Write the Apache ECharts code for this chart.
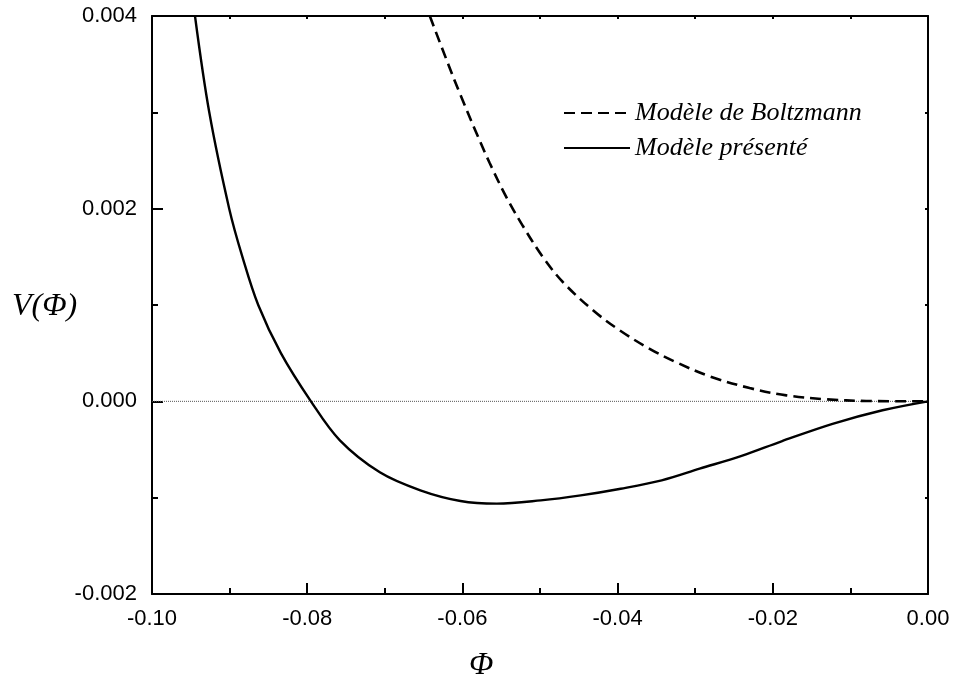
<!DOCTYPE html>
<html>
<head>
<meta charset="utf-8">
<script src="https://cdn.jsdelivr.net/npm/echarts@6/dist/echarts.min.js"></script>
<style>
  html, body { margin: 0; padding: 0; background: #fff; }
  #chart { width: 956px; height: 686px; }
</style>
</head>
<body>
<div id="chart"></div>
<script>
// Sagdeev-type potential V(Φ) for two models
const seriesNames = ['Modèle de Boltzmann', 'Modèle présenté'];

// Φ values and V(Φ) for the Boltzmann model
const phiBoltzmann = [-0.0642, -0.06205, -0.06034, -0.05818, -0.05647, -0.05432, -0.05218, -0.04961,
  -0.04703, -0.04317, -0.03973, -0.03587, -0.03243, -0.02814, -0.02299, -0.01826, -0.01311,
  -0.00796, 0];
const vBoltzmann = [0.00400, 0.003546, 0.003198, 0.002783, 0.002471, 0.002118, 0.001817, 0.001495,
  0.001236, 0.000945, 0.000737, 0.000545, 0.000405, 0.000260, 0.000138, 0.000062, 0.000021,
  0.000004, 0];

// Φ values and V(Φ) for the presented model
const phiPresent = [-0.09446, -0.09262, -0.09005, -0.08835, -0.08631, -0.08339, -0.07952,
  -0.07579, -0.07064, -0.06542, -0.06025, -0.05557, -0.04990, -0.04475, -0.03960, -0.03432,
  -0.02943, -0.02402, -0.01887, -0.01230, -0.00586, 0];
const vPresent = [0.00400, 0.00300, 0.00200, 0.00150, 0.00100, 0.00050, 0,
  -0.000405, -0.000737, -0.000924, -0.001035, -0.001062, -0.001028, -0.000976, -0.000907, -0.000820,
  -0.000699, -0.000566, -0.000415, -0.000234, -0.000093, 0];

// Zero reference line
const zeroLinePhi = [-0.1, 0];
const zeroLineV = [0, 0];

const zip = (xs, ys) => xs.map((x, i) => [x, ys[i]]);

const labelFont = { fontFamily: 'Liberation Sans, Arial, sans-serif', fontSize: 22, color: '#000' };
const black = '#000';

const chart = echarts.init(document.getElementById('chart'), null, { renderer: 'canvas' });

chart.setOption({
  backgroundColor: '#fff',
  animation: false,
  grid: { left: 152, right: 28, top: 16, bottom: 92, containLabel: false },
  xAxis: [
    {
      type: 'value', min: -0.1, max: 0, interval: 0.02, position: 'bottom',
      axisLine: { show: true, onZero: false, lineStyle: { color: black, width: 2 } },
      axisTick: { show: true, inside: true, length: 11, lineStyle: { color: black, width: 2 } },
      minorTick: { show: true, splitNumber: 2, length: 6, lineStyle: { color: black, width: 2 } },
      axisLabel: Object.assign({ margin: 14, formatter: v => v.toFixed(2) }, labelFont),
      splitLine: { show: false }
    },
    {
      type: 'value', min: -0.1, max: 0, interval: 0.01, position: 'top',
      axisLine: { show: true, onZero: false, lineStyle: { color: black, width: 2 } },
      axisTick: { show: true, inside: true, length: 3, lineStyle: { color: black, width: 2 } },
      axisLabel: { show: false },
      splitLine: { show: false }
    }
  ],
  yAxis: [
    {
      type: 'value', min: -0.002, max: 0.004, interval: 0.002, position: 'left',
      axisLine: { show: true, onZero: false, lineStyle: { color: black, width: 2 } },
      axisTick: { show: true, inside: true, length: 11, lineStyle: { color: black, width: 2 } },
      minorTick: { show: true, splitNumber: 2, length: 6, lineStyle: { color: black, width: 2 } },
      axisLabel: Object.assign({ margin: 15, formatter: v => v.toFixed(3) }, labelFont),
      splitLine: { show: false }
    },
    {
      type: 'value', min: -0.002, max: 0.004, interval: 0.001, position: 'right',
      axisLine: { show: true, onZero: false, lineStyle: { color: black, width: 2 } },
      axisTick: { show: true, inside: true, length: 3, lineStyle: { color: black, width: 2 } },
      axisLabel: { show: false },
      splitLine: { show: false }
    }
  ],
  legend: {
    orient: 'vertical',
    left: 563,
    top: 100,
    padding: 0,
    itemWidth: 66,
    itemHeight: 14,
    itemGap: 9,
    itemStyle: { opacity: 0 },
    data: seriesNames,
    textStyle: {
      fontFamily: 'Liberation Serif, Times New Roman, serif',
      fontStyle: 'italic',
      fontSize: 26,
      lineHeight: 26,
      color: '#000'
    }
  },
  graphic: [
    {
      type: 'text', left: 12, top: 291,
      style: { text: 'V(Φ)', font: 'italic 32px "Liberation Serif", serif', fill: '#000' }
    },
    {
      type: 'text', left: 469, top: 650,
      style: { text: 'Φ', font: 'italic 32px "Liberation Serif", serif', fill: '#000' }
    }
  ],
  series: [
    {
      name: 'zero',
      type: 'line',
      data: zip(zeroLinePhi, zeroLineV),
      symbol: 'none',
      silent: true,
      lineStyle: { color: '#555', width: 1, type: [1, 1] },
      z: 1
    },
    {
      name: seriesNames[0],
      type: 'line',
      data: zip(phiBoltzmann, vBoltzmann),
      symbol: 'none',
      smooth: 0.35,
      clip: true,
      itemStyle: { color: black },
      lineStyle: { color: black, width: 2.6, type: [11, 6] },
      z: 3
    },
    {
      name: seriesNames[1],
      type: 'line',
      data: zip(phiPresent, vPresent),
      symbol: 'none',
      smooth: 0.35,
      clip: true,
      itemStyle: { color: black },
      lineStyle: { color: black, width: 2.4 },
      z: 3
    }
  ]
});
</script>
</body>
</html>
